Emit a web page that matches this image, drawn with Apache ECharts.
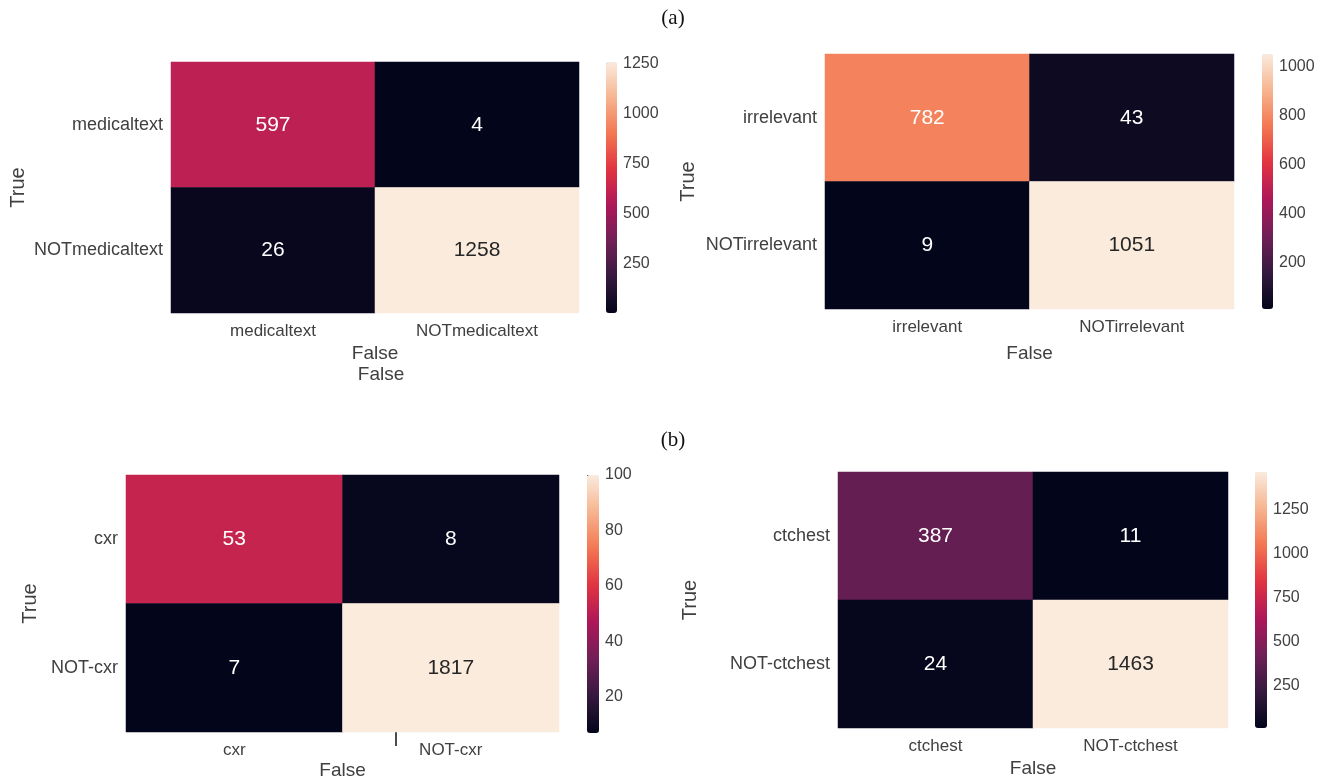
<!DOCTYPE html>
<html><head><meta charset="utf-8">
<script src="https://cdn.jsdelivr.net/npm/echarts@6/dist/echarts.min.js"></script>
<style>html,body{margin:0;padding:0;background:#fff}#c{width:1336px;height:781px}</style>
</head><body><div id="c"></div>
<script>
// ---- data ----
const catsA1 = ['medicaltext', 'NOTmedicaltext'];
const valsA1 = [[597, 4], [26, 1258]];
const ticksA1 = [250, 500, 750, 1000, 1250];

const catsA2 = ['irrelevant', 'NOTirrelevant'];
const valsA2 = [[782, 43], [9, 1051]];
const ticksA2 = [200, 400, 600, 800, 1000];

const catsB1 = ['cxr', 'NOT-cxr'];
const valsB1 = [[53, 8], [7, 1817]];
const ticksB1 = [20, 40, 60, 80, 100];
const vmaxB1 = 100;

const catsB2 = ['ctchest', 'NOT-ctchest'];
const valsB2 = [[387, 11], [24, 1463]];
const ticksB2 = [250, 500, 750, 1000, 1250];

const axisTrue = 'True';
const axisFalse = 'False';
const titleA = '(a)';
const titleB = '(b)';

// ---- styles ----
const rocket = ['#03051a', '#35193e', '#701f57', '#ad1759', '#e13342', '#f37651', '#f6b48f', '#faebdd'];
const FONT = 'Liberation Sans, Arial, sans-serif';
const TXT = '#404040';

const panels = [
  {cats: catsA1, vals: valsA1, ticks: ticksA1, vmax: null,
   grid: {left: 171, top: 62, width: 408, height: 251},
   bar: {left: 606, top: 62, width: 11, height: 251}, yGap: 143, xGap: 31},
  {cats: catsA2, vals: valsA2, ticks: ticksA2, vmax: null,
   grid: {left: 825, top: 54, width: 409, height: 255},
   bar: {left: 1262, top: 54, width: 11, height: 255}, yGap: 127, xGap: 35},
  {cats: catsB1, vals: valsB1, ticks: ticksB1, vmax: vmaxB1,
   grid: {left: 126, top: 475, width: 433, height: 258},
   bar: {left: 587, top: 475, width: 12, height: 258}, yGap: 86, xGap: 29},
  {cats: catsB2, vals: valsB2, ticks: ticksB2, vmax: null,
   grid: {left: 838, top: 472, width: 390, height: 256},
   bar: {left: 1255, top: 472, width: 12, height: 256}, yGap: 138, xGap: 31}
];

const grids = [], xAxes = [], yAxes = [], series = [], visualMaps = [];
panels.forEach((p, i) => {
  const flat = p.vals.flat();
  const vmin = Math.min(...flat);
  const vmax = p.vmax != null ? p.vmax : Math.max(...flat);
  const data = [];
  p.vals.forEach((row, r) => row.forEach((v, c) => {
    const norm = (Math.min(v, vmax) - vmin) / (vmax - vmin);
    data.push({value: [c, r, v], label: {color: norm > 0.9 ? '#262626' : '#ffffff'}});
  }));
  const gi = grids.length;
  grids.push(Object.assign({containLabel: false}, p.grid));
  xAxes.push({type: 'category', gridIndex: gi, data: p.cats,
    axisLine: {show: false}, axisTick: {show: false}, splitLine: {show: false},
    axisLabel: {color: TXT, fontSize: 17, fontFamily: FONT, margin: 10},
    name: axisFalse, nameLocation: 'middle', nameGap: p.xGap,
    nameTextStyle: {color: TXT, fontSize: 19, fontFamily: FONT}});
  yAxes.push({type: 'category', gridIndex: gi, data: p.cats, inverse: true,
    axisLine: {show: false}, axisTick: {show: false}, splitLine: {show: false},
    axisLabel: {color: TXT, fontSize: 18, fontFamily: FONT, margin: 8},
    name: axisTrue, nameLocation: 'middle', nameGap: p.yGap, nameRotate: 90,
    nameTextStyle: {color: TXT, fontSize: 20, fontFamily: FONT}});
  series.push({type: 'heatmap', xAxisIndex: gi, yAxisIndex: gi, data: data,
    label: {show: true, fontSize: 21, fontFamily: FONT},
    itemStyle: {borderWidth: 0}, emphasis: {disabled: true}});
  visualMaps.push({type: 'continuous', seriesIndex: i, min: vmin, max: vmax,
    inRange: {color: rocket}, calculable: false, realtime: false,
    orient: 'vertical', left: p.bar.left, top: p.bar.top, padding: 0,
    itemWidth: p.bar.width, itemHeight: p.bar.height, text: null, showLabel: false,
    hoverLink: false});
  const ci = grids.length;
  grids.push(Object.assign({containLabel: false}, p.bar));
  xAxes.push({type: 'value', gridIndex: ci, show: false});
  yAxes.push({type: 'value', gridIndex: ci, position: 'right', min: vmin, max: vmax,
    axisLine: {show: false}, splitLine: {show: false},
    axisTick: {show: true, length: 4, lineStyle: {color: '#555'}, customValues: p.ticks},
    axisLabel: {color: TXT, fontSize: 16, fontFamily: FONT, margin: 6, customValues: p.ticks,
      formatter: v => String(v)}});
});

const chart = echarts.init(document.getElementById('c'), null, {renderer: 'canvas'});
chart.setOption({
  backgroundColor: '#ffffff',
  animation: false,
  title: [
    {text: titleA, left: 668, top: 3, textAlign: 'center', textStyle: {fontFamily: 'Liberation Serif, Times New Roman, serif', fontWeight: 'normal', fontSize: 21, color: '#111'}},
    {text: titleB, left: 668, top: 425, textAlign: 'center', textStyle: {fontFamily: 'Liberation Serif, Times New Roman, serif', fontWeight: 'normal', fontSize: 21, color: '#111'}},
    {text: axisFalse, left: 376, top: 360, textAlign: 'center', textStyle: {fontFamily: FONT, fontWeight: 'normal', fontSize: 19, color: TXT}}
  ],
  grid: grids, xAxis: xAxes, yAxis: yAxes, visualMap: visualMaps, series: series,
  graphic: [{type: 'line', shape: {x1: 396, y1: 718, x2: 396, y2: 746}, style: {stroke: '#111', lineWidth: 1.5}}]
});
</script></body></html>
